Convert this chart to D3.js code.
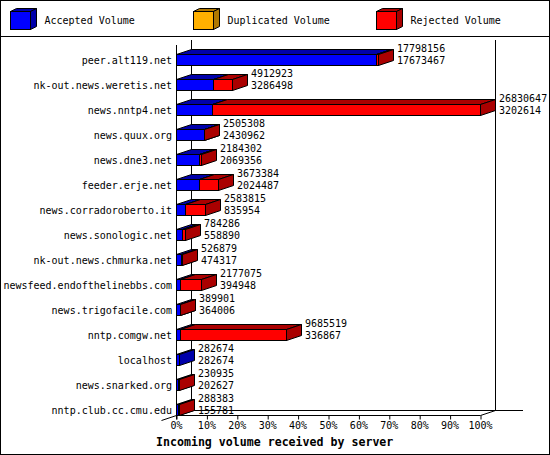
<!DOCTYPE html>
<html>
<head>
<meta charset="utf-8">
<script src="https://cdn.jsdelivr.net/npm/d3@7"></script>
<style>
  body { margin: 0; background: #fff; }
  svg { display: block; }
  text { font-family: "DejaVu Sans Mono", monospace; font-size: 10px; fill: #000; }
</style>
</head>
<body>
<div id="chart"></div>
<script>
// data
const servers = ["peer.alt119.net", "nk-out.news.weretis.net", "news.nntp4.net", "news.quux.org",
  "news.dne3.net", "feeder.erje.net", "news.corradoroberto.it", "news.sonologic.net",
  "nk-out.news.chmurka.net", "newsfeed.endofthelinebbs.com", "news.trigofacile.com",
  "nntp.comgw.net", "localhost", "news.snarked.org", "nntp.club.cc.cmu.edu"];
const totalVolume = [17798156, 4912923, 26830647, 2505308, 2184302, 3673384, 2583815, 784286,
  526879, 2177075, 389901, 9685519, 282674, 230935, 288383];
const acceptedVolume = [17673467, 3286498, 3202614, 2430962, 2069356, 2024487, 835954, 558890,
  474317, 394948, 364006, 336867, 282674, 202627, 155781];
const duplicatedVolume = [0, 0, 0, 0, 0, 0, 0, 0, 0, 0, 0, 0, 0, 0, 0];
const legendLabels = ["Accepted Volume", "Duplicated Volume", "Rejected Volume"];
const pctTicks = [0, 10, 20, 30, 40, 50, 60, 70, 80, 90, 100];

// colours: front face, dark (top and side) face
const fronts = ["#0000ff", "#ffb000", "#ff0000"];
const darks = ["#0000aa", "#b07800", "#aa0000"];

let width = 550, height = 455;
let dx = 15, dy = 5;

let svg = d3.select("#chart").append("svg")
    .attr("width", width)
    .attr("height", height);

// frame and legend separator
svg.append("rect")
    .attr("x", 0.5).attr("y", 0.5)
    .attr("width", width - 1).attr("height", height - 1)
    .attr("fill", "#fff").attr("stroke", "#000");
svg.append("line")
    .attr("x1", 0).attr("x2", width)
    .attr("y1", 36.5).attr("y2", 36.5)
    .attr("stroke", "#000");

// legend
let legendX = [10.5, 193.5, 376.5];
let leg = svg.selectAll(".legend")
    .data(legendLabels)
  .enter().append("g")
    .attr("class", "legend")
    .attr("transform", (d, i) => "translate(" + legendX[i] + ",11.5)");
leg.append("path")
    .attr("d", "M0,0L6,-3L26,-3L20,0Z")
    .attr("fill", (d, i) => darks[i]).attr("stroke", "#000");
leg.append("path")
    .attr("d", "M20,0L26,-3L26,15L20,18Z")
    .attr("fill", (d, i) => darks[i]).attr("stroke", "#000");
leg.append("rect")
    .attr("width", 20).attr("height", 18)
    .attr("fill", (d, i) => fronts[i]).attr("stroke", "#000");
leg.append("text")
    .attr("x", 34).attr("y", 12)
    .text(d => d);

// scales
let x = d3.scaleLinear()
    .domain([0, d3.max(totalVolume)])
    .range([176, 480]);
let pct = d3.scaleLinear()
    .domain([0, 100])
    .range([176, 480]);
let y = d3.scaleBand()
    .domain(servers)
    .range([54, 415])
    .paddingInner(0.56)
    .paddingOuter(0);
let h = Math.round(y.bandwidth());
let px = v => Math.round(x(v)) + 0.5;

let x0 = px(0), xEnd = Math.round(pct(100)) + 0.5;
let yFloor = 415.5, yBack = 410.5, yTop = 40;

// walls and floor
let walls = svg.append("g").attr("stroke", "#000").attr("fill", "none");
walls.append("line").attr("x1", x0 + dx).attr("x2", x0 + dx).attr("y1", yTop).attr("y2", yBack);
walls.append("line").attr("x1", xEnd + dx).attr("x2", xEnd + dx).attr("y1", yTop).attr("y2", yBack);
walls.append("line").attr("x1", x0 + dx).attr("x2", 523).attr("y1", yBack).attr("y2", yBack);
walls.append("line").attr("x1", x0).attr("x2", x0).attr("y1", yTop + dy).attr("y2", yFloor + 4);
walls.append("line").attr("x1", x0).attr("x2", xEnd).attr("y1", yFloor).attr("y2", yFloor);
walls.append("path").attr("d", "M" + xEnd + "," + yFloor + "L" + (xEnd + dx) + "," + yBack);
walls.append("path").attr("d", "M" + (x0 - dx) + "," + (yFloor + dy) + "L" + x0 + "," + yFloor);

// x axis ticks and labels
let axis = svg.append("g")
    .attr("transform", "translate(0," + yFloor + ")")
    .call(d3.axisBottom(pct)
      .tickValues(pctTicks)
      .tickSize(4)
      .tickPadding(2)
      .tickFormat(d => d + "%"));
axis.select(".domain").remove();
axis.selectAll(".tick line").attr("stroke", "#000")
    .attr("transform", "translate(0.5,0)");
axis.selectAll(".tick text")
    .attr("font-family", "DejaVu Sans Mono")
    .attr("font-size", 10)
    .attr("fill", "#000")
    .attr("dy", "0.7em");

svg.append("text")
    .attr("x", 156).attr("y", 446)
    .style("font-size", "11.6px")
    .style("font-weight", "bold")
    .text("Incoming volume received by server");

// server labels
svg.selectAll(".server")
    .data(servers)
  .enter().append("text")
    .attr("class", "server")
    .attr("x", 172)
    .attr("y", d => y(d) + 9.5)
    .attr("text-anchor", "end")
    .text(d => d);

// bar segments: accepted, duplicated, rejected
let segs = [];
servers.forEach(function(s, i) {
  let a = acceptedVolume[i], b = a + duplicatedVolume[i];
  let parts = [[0, a], [a, b], [b, totalVolume[i]]];
  parts.forEach(function(p, k) {
    if (p[1] > p[0]) segs.push({server: s, from: p[0], to: p[1], k: k});
  });
});

let seg = svg.selectAll(".seg")
    .data(segs)
  .enter().append("g")
    .attr("class", "seg")
    .attr("stroke", "#000")
    .attr("stroke-linejoin", "miter");
seg.append("path")
    .attr("d", function(d) {
      let x1 = px(d.from), x2 = px(d.to), t = Math.round(y(d.server)) + 0.5;
      return "M" + x1 + "," + t + "L" + (x1 + dx) + "," + (t - dy) + "L" + (x2 + dx) + "," + (t - dy) + "L" + x2 + "," + t + "Z";
    })
    .attr("fill", d => darks[d.k]);
seg.append("path")
    .attr("d", function(d) {
      let x2 = px(d.to), t = Math.round(y(d.server)) + 0.5;
      return "M" + x2 + "," + t + "L" + (x2 + dx) + "," + (t - dy) + "L" + (x2 + dx) + "," + (t + h - dy) + "L" + x2 + "," + (t + h) + "Z";
    })
    .attr("fill", d => darks[d.k]);
seg.append("rect")
    .attr("x", d => px(d.from))
    .attr("y", d => Math.round(y(d.server)) + 0.5)
    .attr("width", d => px(d.to) - px(d.from))
    .attr("height", h)
    .attr("fill", d => fronts[d.k]);

// value labels: total on top, accepted below
let vals = svg.selectAll(".vals")
    .data(servers)
  .enter().append("text")
    .attr("class", "vals")
    .attr("x", (d, i) => Math.round(x(totalVolume[i])) + dx + 4)
    .attr("y", d => y(d) - 2);
vals.append("tspan")
    .text((d, i) => totalVolume[i]);
vals.append("tspan")
    .attr("x", (d, i) => Math.round(x(totalVolume[i])) + dx + 4)
    .attr("dy", 12)
    .text((d, i) => acceptedVolume[i]);
</script>
</body>
</html>
